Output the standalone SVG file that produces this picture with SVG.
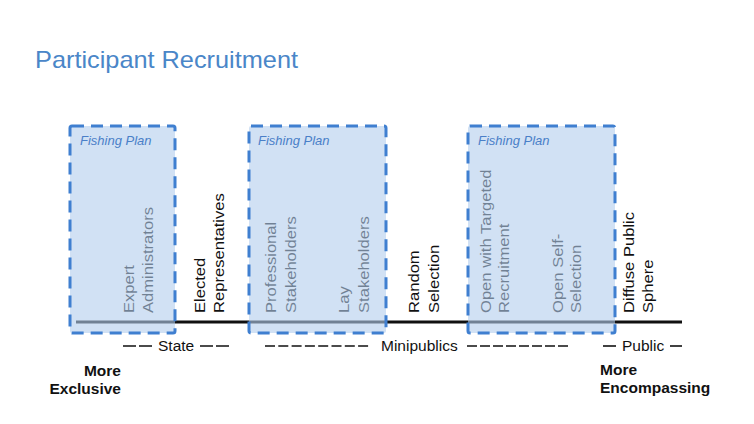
<svg xmlns="http://www.w3.org/2000/svg" width="754" height="424" viewBox="0 0 754 424">
<style>
.title{font-family:"Liberation Sans",Arial,sans-serif;font-size:24px;fill:#4a86c8}
.lbl{font-family:"Liberation Sans",Arial,sans-serif;font-size:15.5px;fill:#111}
.bold{font-family:"Liberation Sans",Arial,sans-serif;font-size:15.5px;font-weight:bold;fill:#111}
.fish{font-family:"Liberation Sans",Arial,sans-serif;font-size:13px;font-style:italic;fill:#4a7fc8}
.box{fill:#b3cdec;fill-opacity:0.6;stroke:#3f7fd0;stroke-width:3;stroke-dasharray:12 7}
.dash{stroke:#111;stroke-width:1.6}
</style>
<rect width="754" height="424" fill="#ffffff"/>
<text class="title" x="35" y="68" textLength="263" lengthAdjust="spacingAndGlyphs">Participant  Recruitment</text>

<g id="connectors">
<line x1="76" y1="322" x2="682" y2="322" stroke="#111" stroke-width="3"/>
</g>

<g id="labels">
<text class="lbl" transform="translate(133.5,313) rotate(-90) scale(1.07,1)">Expert</text>
<text class="lbl" transform="translate(153,313) rotate(-90) scale(1.07,1)">Administrators</text>
<text class="lbl" transform="translate(204.5,313) rotate(-90) scale(1.07,1)">Elected</text>
<text class="lbl" transform="translate(224,313) rotate(-90) scale(1.07,1)">Representatives</text>
<text class="lbl" transform="translate(276,313) rotate(-90) scale(1.07,1)">Professional</text>
<text class="lbl" transform="translate(296,313) rotate(-90) scale(1.07,1)">Stakeholders</text>
<text class="lbl" transform="translate(349,313) rotate(-90) scale(1.07,1)">Lay</text>
<text class="lbl" transform="translate(369,313) rotate(-90) scale(1.07,1)">Stakeholders</text>
<text class="lbl" transform="translate(419,313) rotate(-90) scale(1.07,1)">Random</text>
<text class="lbl" transform="translate(439,313) rotate(-90) scale(1.07,1)">Selection</text>
<text class="lbl" transform="translate(491,313) rotate(-90) scale(1.07,1)">Open with Targeted</text>
<text class="lbl" transform="translate(509,313) rotate(-90) scale(1.07,1)">Recruitment</text>
<text class="lbl" transform="translate(563,313) rotate(-90) scale(1.07,1)">Open Self-</text>
<text class="lbl" transform="translate(581,313) rotate(-90) scale(1.07,1)">Selection</text>
<text class="lbl" transform="translate(634,313) rotate(-90) scale(1.07,1)">Diffuse Public</text>
<text class="lbl" transform="translate(653,313) rotate(-90) scale(1.07,1)">Sphere</text>
</g>

<g id="fishing-plan-1">
<rect class="box" x="70" y="126" width="105" height="207" rx="2"/>
<text class="fish" x="80" y="145">Fishing Plan</text>
</g>
<g id="fishing-plan-2">
<rect class="box" x="249" y="126" width="137" height="207" rx="2"/>
<text class="fish" x="258" y="145">Fishing Plan</text>
</g>
<g id="fishing-plan-3">
<rect class="box" x="468" y="126" width="147" height="207" rx="2"/>
<text class="fish" x="478" y="145">Fishing Plan</text>
</g>

<g id="scale">
<line class="dash" x1="123" y1="346" x2="152" y2="346" stroke-dasharray="13 3"/>
<text class="lbl" x="158" y="351">State</text>
<line class="dash" x1="200" y1="346" x2="229" y2="346" stroke-dasharray="13 3"/>
<line class="dash" x1="265" y1="346" x2="371" y2="346" stroke-dasharray="10 3.3"/>
<text class="lbl" x="381" y="351">Minipublics</text>
<line class="dash" x1="467" y1="346" x2="569" y2="346" stroke-dasharray="10 3"/>
<line class="dash" x1="603" y1="346" x2="616" y2="346"/>
<text class="lbl" x="622" y="351">Public</text>
<line class="dash" x1="670" y1="346" x2="682" y2="346"/>
</g>

<g id="ends">
<text class="bold" x="121" y="376" text-anchor="end">More</text>
<text class="bold" x="121" y="394" text-anchor="end">Exclusive</text>
<text class="bold" x="600" y="375">More</text>
<text class="bold" x="600" y="393">Encompassing</text>
</g>
</svg>
